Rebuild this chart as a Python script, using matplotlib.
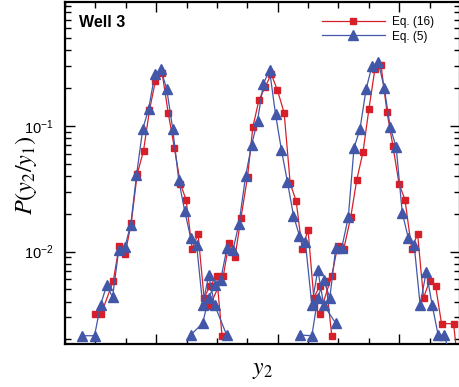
import matplotlib
matplotlib.use("Agg")
import matplotlib.pyplot as plt
from matplotlib.ticker import MultipleLocator, NullFormatter, LogLocator

plt.rcParams['font.family'] = ['Liberation Sans', 'DejaVu Sans']
plt.rcParams['mathtext.fontset'] = 'stix'

# Eq. (5), three wells
b1_x = [0.392, 0.493, 0.543, 0.594, 0.641, 0.692, 0.742, 0.791, 0.838, 0.890, 0.939, 0.989,
        1.038, 1.087, 1.136, 1.186, 1.235, 1.284, 1.333, 1.383, 1.432, 1.481, 1.580]
b1_y = [0.00214, 0.00214, 0.00378, 0.00541, 0.00433, 0.01026, 0.01080, 0.0164, 0.0403, 0.0947,
        0.137, 0.258, 0.281, 0.196, 0.0947, 0.0370, 0.0210, 0.01288, 0.01126, 0.00376, 0.00650,
        0.00376, 0.00217]
b2_x = [1.284, 1.383, 1.432, 1.481, 1.530, 1.583, 1.632, 1.681, 1.736, 1.785, 1.834, 1.883,
        1.933, 1.982, 2.031, 2.080, 2.130, 2.179, 2.228, 2.281, 2.330, 2.379, 2.478]
b2_y = [0.00217, 0.00269, 0.00429, 0.00542, 0.00593, 0.01072, 0.01028, 0.01655, 0.0398, 0.0702,
        0.110, 0.217, 0.277, 0.124, 0.0641, 0.0359, 0.0193, 0.01335, 0.01183, 0.00376, 0.00713,
        0.00376, 0.00269]
b3_x = [2.182, 2.281, 2.330, 2.379, 2.429, 2.478, 2.527, 2.581, 2.628, 2.677, 2.727, 2.776,
        2.828, 2.877, 2.926, 2.975, 3.025, 3.074, 3.123, 3.172, 3.222, 3.271, 3.320, 3.369, 3.419]
b3_y = [0.00217, 0.00214, 0.00429, 0.00593, 0.00429, 0.01072, 0.01072, 0.0188, 0.0668, 0.0941,
        0.195, 0.301, 0.321, 0.199, 0.0971, 0.0677, 0.0203, 0.01288, 0.01126, 0.00376, 0.00691,
        0.00376, 0.00217, 0.00217, 0.0015]

# Eq. (16), three wells
r1_x = [0.493, 0.548, 0.647, 0.696, 0.745, 0.795, 0.844, 0.896, 0.945, 0.994, 1.049, 1.099,
        1.150, 1.200, 1.246, 1.296, 1.345, 1.394, 1.443, 1.498, 1.542]
r1_y = [0.00320, 0.00320, 0.00582, 0.01112, 0.00960, 0.01685, 0.0413, 0.0633, 0.133, 0.228,
        0.264, 0.127, 0.0668, 0.0344, 0.0259, 0.01053, 0.01377, 0.00429, 0.00532, 0.00642, 0.00214]
r2_x = [1.394, 1.443, 1.553, 1.599, 1.649, 1.698, 1.752, 1.796, 1.846, 1.897, 1.947, 1.998,
        2.053, 2.103, 2.152, 2.201, 2.250, 2.297, 2.346, 2.396, 2.445]
r2_y = [0.00371, 0.00371, 0.00642, 0.01175, 0.00909, 0.0186, 0.0393, 0.0982, 0.161, 0.204,
        0.258, 0.192, 0.127, 0.0348, 0.0252, 0.01053, 0.01482, 0.00429, 0.00532, 0.00586, 0.00214]
r3_x = [2.297, 2.346, 2.445, 2.494, 2.544, 2.601, 2.650, 2.702, 2.751, 2.800, 2.850, 2.899,
        2.948, 2.998, 3.047, 3.102, 3.151, 3.200, 3.250, 3.299, 3.348, 3.447, 3.496]
r3_y = [0.00371, 0.00320, 0.00642, 0.01112, 0.01053, 0.0188, 0.0370, 0.0618, 0.137, 0.284,
        0.305, 0.129, 0.0693, 0.0347, 0.0259, 0.01053, 0.01377, 0.00429, 0.00586, 0.00535,
        0.00267, 0.00267, 0.00099]

red = '#d71f2a'
blue = '#4257a8'

fig = plt.figure(figsize=(4.6, 3.87), dpi=100)
ax = fig.add_axes([0.1413, 0.1119, 0.8587, 0.8835])

red_sets = [(r1_x, r1_y), (r2_x, r2_y), (r3_x, r3_y)]
blue_sets = [(b1_x, b1_y), (b2_x, b2_y), (b3_x, b3_y)]
for i, (xs, ys) in enumerate(red_sets):
    ax.plot(xs, ys, color=red, lw=0.9, marker='s', ms=5, mec=red, mfc=red,
            label='Eq. (16)' if i == 0 else None, zorder=2)
for i, (xs, ys) in enumerate(blue_sets):
    ax.plot(xs, ys, color=blue, lw=0.9, marker='^', ms=6.5, mec=blue, mfc=blue,
            label='Eq. (5)' if i == 0 else None, zorder=3)

ax.set_yscale('log')
ax.set_xlim(0.25, 3.5)
ax.set_ylim(0.00185, 0.97)

ax.xaxis.set_major_locator(MultipleLocator(1))
ax.xaxis.set_minor_locator(MultipleLocator(0.25))
ax.xaxis.set_major_formatter(NullFormatter())
ax.yaxis.set_minor_locator(LogLocator(subs=range(2, 10)))
ax.yaxis.set_minor_formatter(NullFormatter())

ax.tick_params(which='both', direction='in', top=True, right=True, width=1.0)
ax.tick_params(which='major', length=7, labelsize=10.5, pad=8)
ax.tick_params(which='minor', length=4)
for s in ax.spines.values():
    s.set_linewidth(1.6)

ax.set_xlabel('$y_2$', fontsize=17, labelpad=3)
ax.set_ylabel('$P(y_2/y_1)$', fontsize=17.5)
ax.yaxis.set_label_coords(-0.066, 0.492)

ax.text(0.0354, 0.925, 'Well 3', transform=ax.transAxes, fontsize=11.5,
        fontweight='bold', va='baseline', ha='left')

ax.legend(loc='upper left', bbox_to_anchor=(0.651, 0.958), frameon=False, fontsize=8.5,
          borderpad=0, borderaxespad=0, handlelength=5.3, handletextpad=0.6,
          labelspacing=0.2, numpoints=1)

fig.savefig('out.png', dpi=100)
